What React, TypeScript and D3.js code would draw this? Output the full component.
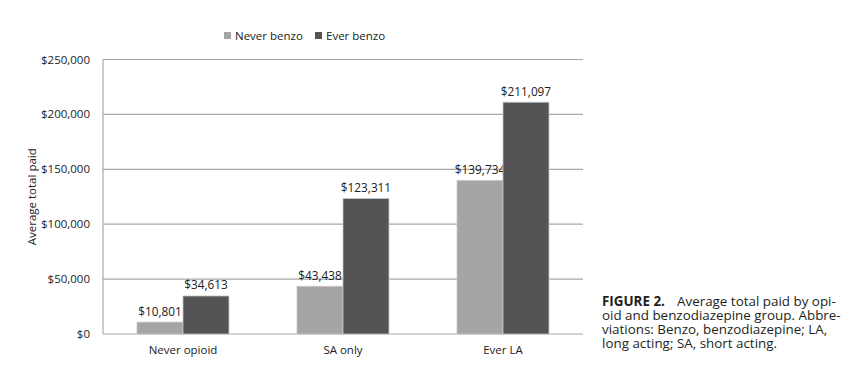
import React from "react";
import * as d3 from "d3";

const categories = ["Never opioid", "SA only", "Ever LA"];
const seriesNames = ["Never benzo", "Ever benzo"];
const neverBenzo = [10801, 43438, 139734];
const everBenzo = [34613, 123311, 211097];
const yTicks = [0, 50000, 100000, 150000, 200000, 250000];
const captionTitle = "FIGURE 2.";
const captionLines = [
  "Average total paid by opi-",
  "oid and benzodiazepine group. Abbre-",
  "viations: Benzo, benzodiazepine; LA,",
  "long acting; SA, short acting.",
];

const colors = ["#a5a5a6", "#545456"];
const font = "'Open Sans', sans-serif";

export default function App() {
  const W = 867, H = 374;
  const left = 103, right = 583, top = 59.5, bottom = 334;
  const x0 = d3.scaleBand().domain(categories).range([left, right]).paddingInner(0).paddingOuter(0);
  const x1 = d3.scaleBand().domain(seriesNames).range([0, x0.bandwidth()]).paddingInner(0).paddingOuter(0.74);
  const y = d3.scaleLinear().domain([0, 250000]).range([bottom, top]);
  const fmt = (v: number) => "$" + d3.format(",")(v);
  const series = [neverBenzo, everBenzo];

  return (
    <svg width={W} height={H} style={{ position: "absolute", left: 0, top: 0, background: "#fff" }}>
      {yTicks.map((t) => (
        <g key={t}>
          <line x1={left} x2={right} y1={y(t)} y2={y(t)} stroke="#a8a8a8" strokeWidth={1.2} />
          <text x={90} y={y(t)} dy="0.35em" textAnchor="end" fontFamily={font} fontSize={11.5} fill="#222">
            {fmt(t)}
          </text>
        </g>
      ))}
      <line x1={left} x2={left} y1={top} y2={bottom} stroke="#a8a8a8" strokeWidth={1.2} />
      <text
        transform={`translate(32,${(top + bottom) / 2}) rotate(-90)`}
        textAnchor="middle"
        dy="0.35em"
        fontFamily={font}
        fontSize={11.5}
        fill="#222"
      >
        Average total paid
      </text>
      {categories.map((c, i) => (
        <g key={c}>
          {series.map((s, j) => {
            const bx = (x0(c) as number) + (x1(seriesNames[j]) as number);
            const bw = x1.bandwidth();
            return (
              <g key={j}>
                <rect x={bx} y={y(s[i])} width={bw} height={bottom - y(s[i])} fill={colors[j]} stroke="#c4c4c4" strokeWidth={0.8} />
                <text x={bx + bw / 2} y={y(s[i]) - 6.5} textAnchor="middle" fontFamily={font} fontSize={11.8} fill="#222">
                  {fmt(s[i])}
                </text>
              </g>
            );
          })}
          <text x={(x0(c) as number) + x0.bandwidth() / 2} y={349.5} dy="0.35em" textAnchor="middle" fontFamily={font} fontSize={11.5} fill="#222">
            {c}
          </text>
        </g>
      ))}
      {seriesNames.map((n, j) => {
        const lx = j === 0 ? 224 : 315;
        return (
          <g key={n}>
            <rect x={lx} y={32} width={7} height={7} fill={colors[j]} />
            <text x={lx + 11} y={36} dy="0.35em" fontFamily={font} fontSize={11.5} fill="#222">
              {n}
            </text>
          </g>
        );
      })}
      <text x={602} y={306} fontFamily={font} fontSize={13.4} fontWeight="bold" fill="#231f20">
        {captionTitle}
      </text>
      {captionLines.map((l, i) => (
        <text key={i} x={i === 0 ? 677 : 602} y={306 + i * 14} fontFamily={font} fontSize={13.4} fill="#231f20">
          {l}
        </text>
      ))}
    </svg>
  );
}
